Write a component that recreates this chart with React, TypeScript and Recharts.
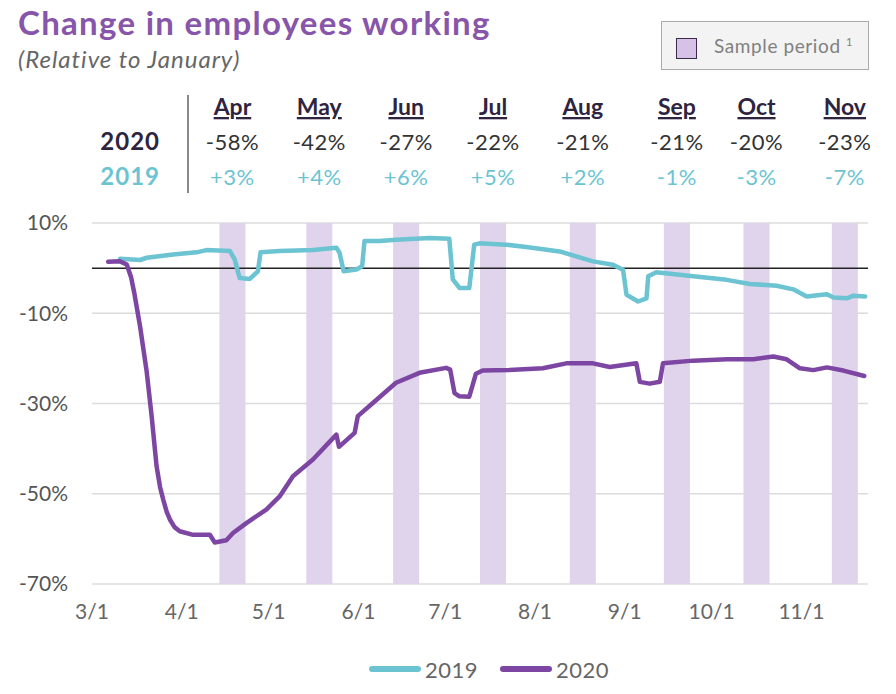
import { LineChart, Line, XAxis, YAxis, CartesianGrid, ReferenceArea, ReferenceLine, Legend } from 'recharts'

// x values are days since March 1
const months = ['Apr', 'May', 'Jun', 'Jul', 'Aug', 'Sep', 'Oct', 'Nov']
const change2020 = ['-58%', '-42%', '-27%', '-22%', '-21%', '-21%', '-20%', '-23%']
const change2019 = ['+3%', '+4%', '+6%', '+5%', '+2%', '-1%', '-3%', '-7%']
const sampleStart = [44, 74, 104, 134, 165, 197.5, 225, 255.5]
const sampleEnd = [53, 83, 113, 143, 174, 206.5, 234, 264.5]

const xTicks = [0, 31, 61, 92, 122, 153, 184, 214, 245]
const xTickLabels = ['3/1', '4/1', '5/1', '6/1', '7/1', '8/1', '9/1', '10/1', '11/1']
const yTicks = [10, -10, -30, -50, -70]

const line2019: [number, number][] = [
  [9.7, 2.1], [16.6, 1.8], [18.9, 2.3], [28, 3.0], [36.1, 3.5], [39.5, 4.0], [47.6, 3.8],
  [49.3, 1.9], [51, -2.2], [54.5, -2.4], [57.3, -0.7], [58.2, 3.5], [64.8, 3.8], [76.3, 4.0],
  [84.4, 4.5], [85.5, 3.4], [86.9, -0.7], [91.3, -0.3], [93.3, 0.4], [94.1, 6.0], [99.3, 6.0],
  [105.1, 6.3], [116.6, 6.7], [123.4, 6.5], [124.6, -2.5], [126.9, -4.4], [130.3, -4.4],
  [132, 5.2], [133.8, 5.5], [143, 5.2], [150, 4.7], [161.5, 3.7], [173, 1.5], [179.9, 0.75],
  [183.4, -0.35], [184.6, -5.9], [188.6, -7.4], [191.5, -6.7], [192.1, -1.8], [194.9, -0.9],
  [207.6, -1.8], [219.2, -2.6], [227.2, -3.5], [236.4, -3.9], [242.2, -4.7], [246.8, -6.3],
  [253.8, -5.8], [256.1, -6.5], [260.7, -6.7], [263, -6.1], [267, -6.3],
]

const line2020: [number, number][] = [
  [5.6, 1.4], [9.7, 1.5], [12, 0.8], [13.5, -2], [14.6, -5.5], [16.6, -12.9], [18.9, -23],
  [20.6, -32.8], [22.3, -43.9], [23.5, -48.5], [24.6, -51.3], [25.8, -54], [26.9, -55.7],
  [28.5, -57.4], [30.3, -58.3], [34.9, -59.1], [40.7, -59.1], [42.4, -60.8], [46.4, -60.3],
  [48.7, -58.7], [53.3, -56.5], [60.2, -53.5], [64.8, -50.6], [69.4, -46.1], [76.3, -42.4],
  [84.4, -36.9], [85.3, -39.6], [90.7, -36.5], [91.8, -32.8], [97, -29.9], [105, -25.4],
  [113.1, -23.2], [122.3, -22.1], [123.7, -22.5], [125.2, -27.7], [126.9, -28.4], [130.3, -28.5],
  [132.6, -23.4], [134.9, -22.7], [144.1, -22.6], [155.7, -22.2], [163.8, -21.1], [173, -21.1],
  [178.8, -21.9], [188, -21.1], [189.2, -25.2], [192.6, -25.6], [196.1, -25.2], [197.2, -21.1],
  [207.6, -20.5], [219.2, -20.2], [228.4, -20.2], [235.3, -19.6], [239.9, -20.2], [244.5, -22.2],
  [249.1, -22.6], [253.8, -22], [259.5, -22.7], [266.7, -23.9],
]

const TEAL = '#6cc4d2'
const PURPLE = '#7d46a2'
const FONT = 'Lato, "Open Sans", sans-serif'

const toPoints = (pairs: [number, number][]) => pairs.map(([day, pct]) => ({ day, pct }))

function BandHead(props: any) {
  const vb = props.viewBox ?? props
  const cx = vb.x + vb.width / 2
  const top = vb.y
  return (
    <g fontFamily={FONT}>
      <text x={cx} y={top - 108} textAnchor="middle" fontSize={23} fontWeight={700} fill="#2e2440"
        style={{ textDecoration: 'underline' }}>{props.month}</text>
      <text x={cx} y={top - 73} textAnchor="middle" fontSize={22} letterSpacing={0.5} fill="#333">{props.v2020}</text>
      <text x={cx} y={top - 38} textAnchor="middle" fontSize={22} letterSpacing={0.5} fill={TEAL}>{props.v2019}</text>
    </g>
  )
}

function LegendContent(props: any) {
  const items = props.payload ?? []
  return (
    <div style={{ display: 'flex', justifyContent: 'flex-start', paddingLeft: 369, height: 30, alignItems: 'center', fontFamily: FONT }}>
      {items.map((it: any) => (
        <div key={it.value} style={{ display: 'flex', alignItems: 'center', marginRight: 22 }}>
          <span style={{ display: 'inline-block', width: 52, height: 6, borderRadius: 3, background: it.color, marginRight: 4 }} />
          <span style={{ fontSize: 22, color: '#666', letterSpacing: 0.5 }}>{it.value}</span>
        </div>
      ))}
    </div>
  )
}

export default function App() {
  return (
    <div style={{ position: 'absolute', left: 0, top: 0, width: 896, height: 694, background: '#fff', fontFamily: FONT }}>
      <LineChart width={896} height={694} margin={{ top: 223, right: 28, bottom: 10, left: 0 }}>
        <CartesianGrid vertical={false} stroke="#dcdcdc" strokeWidth={1.5} />
        {months.map((m, i) => (
          <ReferenceArea key={m} x1={sampleStart[i]} x2={sampleEnd[i]} fill="#e0d3ec" fillOpacity={1} stroke="none"
            label={<BandHead month={m} v2020={change2020[i]} v2019={change2019[i]} />} />
        ))}
        <ReferenceLine y={0} stroke="#222" strokeWidth={1.5} />
        <XAxis dataKey="day" type="number" domain={[0, 268]} ticks={xTicks} allowDataOverflow
          tickFormatter={(v) => xTickLabels[xTicks.indexOf(v)] ?? ''} axisLine={false} tickLine={false}
          tickMargin={14} height={70} tick={{ fontSize: 21, fill: '#666', fontFamily: FONT }} />
        <YAxis type="number" domain={[-70, 10]} ticks={yTicks} width={92} axisLine={false} tickLine={false}
          tickMargin={18} tickFormatter={(v) => `${v}%`} tick={{ fontSize: 21, fill: '#555', fontFamily: FONT }} />
        <Legend verticalAlign="bottom" content={<LegendContent />} />
        <Line data={toPoints(line2019)} dataKey="pct" name="2019" stroke={TEAL} strokeWidth={4.5} dot={false}
          strokeLinecap="round" strokeLinejoin="round" type="linear" isAnimationActive={false} />
        <Line data={toPoints(line2020)} dataKey="pct" name="2020" stroke={PURPLE} strokeWidth={4.5} dot={false}
          strokeLinecap="round" strokeLinejoin="round" type="linear" isAnimationActive={false} />
      </LineChart>

      <div style={{ position: 'absolute', left: 18, top: 2, fontSize: 33, letterSpacing: 1.3, fontWeight: 700, color: '#8755a9' }}>
        Change in employees working
      </div>
      <div style={{ position: 'absolute', left: 18, top: 44, fontSize: 24, letterSpacing: 1, fontStyle: 'italic', color: '#666' }}>
        (Relative to January)
      </div>

      <div style={{ position: 'absolute', left: 661, top: 21, width: 206, height: 47, border: '1px solid #aaa', background: '#f3f3f3' }}>
        <div style={{ position: 'absolute', left: 14, top: 16, width: 19, height: 19, background: '#d6c2e7', border: '1.5px solid #3a2a4a' }} />
        <div style={{ position: 'absolute', left: 52, top: 12, fontSize: 19, letterSpacing: 0.6, color: '#808080', whiteSpace: 'nowrap' }}>
          Sample period <sup style={{ fontSize: 11 }}>1</sup>
        </div>
      </div>

      <div style={{ position: 'absolute', left: 60, width: 100, top: 126, textAlign: 'right', fontSize: 24, letterSpacing: 1, fontWeight: 700, color: '#2e2440' }}>2020</div>
      <div style={{ position: 'absolute', left: 60, width: 100, top: 161, textAlign: 'right', fontSize: 24, letterSpacing: 1, fontWeight: 700, color: TEAL }}>2019</div>
      <div style={{ position: 'absolute', left: 187, top: 95, width: 2, height: 98, background: '#888' }} />
    </div>
  )
}
